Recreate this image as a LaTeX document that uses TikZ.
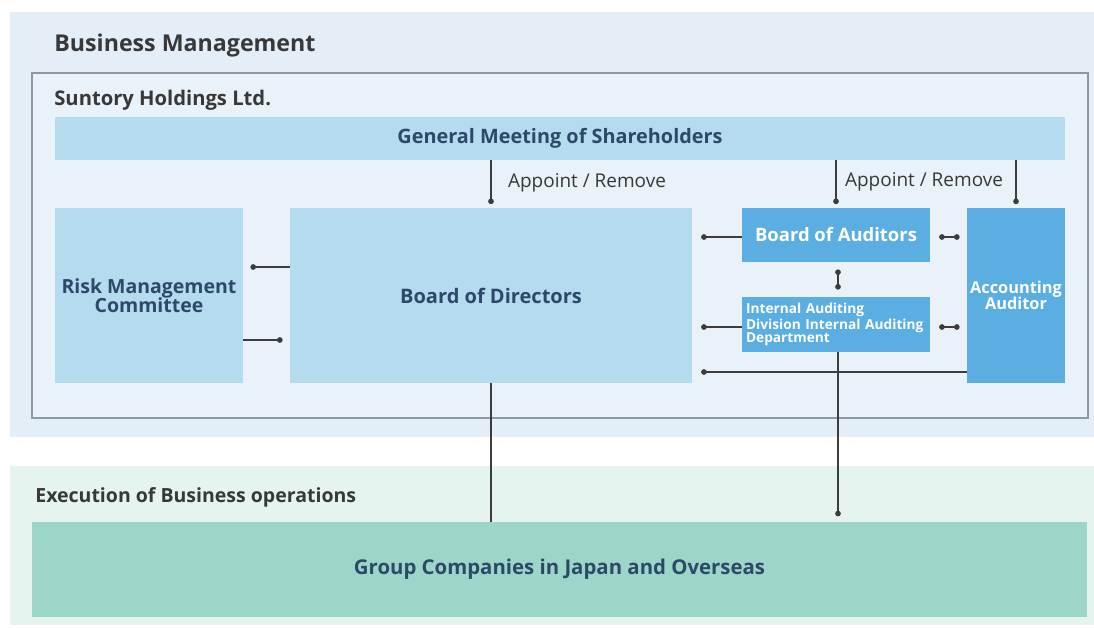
\documentclass[tikz,border=0pt]{standalone}
\usepackage{fontspec}
\setmainfont{Open Sans}
\usetikzlibrary{arrows.meta}
\newlength\pxu
\setlength\pxu{0.02cm}
\definecolor{mgmtbg}{HTML}{E3EEF6}
\definecolor{holdbg}{HTML}{E9F2F9}
\definecolor{holdline}{HTML}{8C9AA6}
\definecolor{lightbox}{HTML}{B5DBEF}
\definecolor{darkbox}{HTML}{5AAEE2}
\definecolor{execbg}{HTML}{E6F4F0}
\definecolor{groupbox}{HTML}{9CD6C8}
\definecolor{titletext}{HTML}{383838}
\definecolor{boxtext}{HTML}{2C4A68}
\definecolor{linkcol}{HTML}{3C3C3C}
\tikzset{
  fs/.style={font=\fontsize{#1}{#1}\selectfont\bfseries},
  title/.style={fs=#1,text=titletext,anchor=west,inner sep=0},
  lightnode/.style={fill=lightbox,text=boxtext,align=center,inner sep=0},
  darknode/.style={fill=darkbox,text=white,align=center,inner sep=0},
  link/.style={draw=linkcol,line width=0.6pt},
  dotend/.style={link,-{Circle[length=3.2pt]}},
  dotboth/.style={link,{Circle[length=3.2pt]}-{Circle[length=3.2pt]}}
}
\begin{document}
\begin{tikzpicture}[x=0.02cm,y=-0.02cm]
\useasboundingbox (0,0) rectangle (1094,628);
% backgrounds
\fill[mgmtbg] (10,12) rectangle (1094,437);
\fill[execbg] (10,466) rectangle (1094,625);
\draw[holdline,fill=holdbg,line width=0.9pt] (32,73) rectangle (1088,418);
\node[title=13.2] (bm) at (54,45) {Business Management};
\node[title=11.5] (shl) at (54,100) {Suntory Holdings Ltd.};
\node[title=11.1] (ebo) at (35,497) {Execution of Business operations};

% boxes
\node[lightnode,fs=11.3,minimum width=1010\pxu,minimum height=43\pxu] (gms) at (560,138.5) {General Meeting of Shareholders};
\node[lightnode,fs=11.1,minimum width=188\pxu,minimum height=175\pxu] (rmc) at (149,295.5) {Risk Management\\Committee};
\node[lightnode,fs=11.4,minimum width=402\pxu,minimum height=175\pxu] (bod) at (491,295.5) {Board of Directors};
\node[darknode,fs=10.5,minimum width=188\pxu,minimum height=54\pxu] (boa) at (836,235) {Board of Auditors};
\node[darknode,font=\fontsize{7.8}{7.6}\selectfont\bfseries,minimum width=188\pxu,minimum height=55\pxu,align=left,text width=180\pxu] (iad) at (836,324.5) {Internal Auditing\\Division Internal Auditing\\Department};
\node[darknode,fs=9.3,minimum width=98\pxu,minimum height=175\pxu] (aca) at (1016,295.5) {Accounting\\Auditor};
\node[fill=groupbox,text=boxtext,fs=11.6,inner sep=0,minimum width=1055\pxu,minimum height=95\pxu] (grp) at (559.5,569.5) {Group Companies in Japan and Overseas};

% appoint / remove
\draw[dotend,shorten >=2pt] (gms.south -| bod.north) -- (bod.north);
\draw[dotend,shorten >=2pt] (gms.south -| boa.north) -- (boa.north);
\draw[dotend,shorten >=2pt] (gms.south -| aca.north) -- (aca.north);
\node[font=\fontsize{10.8}{10.8}\selectfont,text=titletext] (ar1) at (587,183) {Appoint / Remove};
\node[font=\fontsize{10.8}{10.8}\selectfont,text=titletext] (ar2) at (924,182) {Appoint / Remove};

% reporting lines
\draw[dotend,shorten >=4pt] (bod.west |- 0,267) -- (rmc.east |- 0,267);
\draw[dotend,shorten >=4pt] (rmc.east |- 0,340) -- (bod.west |- 0,340);
\draw[dotend,shorten >=5pt] (boa.west |- 0,237) -- (bod.east |- 0,237);
\draw[dotend,shorten >=5pt] (iad.west |- 0,327) -- (bod.east |- 0,327);
\draw[dotend,shorten >=5pt] (aca.west |- 0,372) -- (bod.east |- 0,372);
\draw[dotboth,shorten <=5pt,shorten >=4pt] (boa.east |- 0,237) -- (aca.west |- 0,237);
\draw[dotboth,shorten <=5pt,shorten >=4pt] (iad.east |- 0,327) -- (aca.west |- 0,327);
\draw[dotboth,shorten <=4pt,shorten >=4pt] (boa.south -| 838,0) -- (iad.north -| 838,0);
\draw[link] (bod.south) -- (grp.north -| bod.south);
\draw[dotend,shorten >=3pt] (iad.south -| 838,0) -- (grp.north -| 838,0);
\end{tikzpicture}
\end{document}
